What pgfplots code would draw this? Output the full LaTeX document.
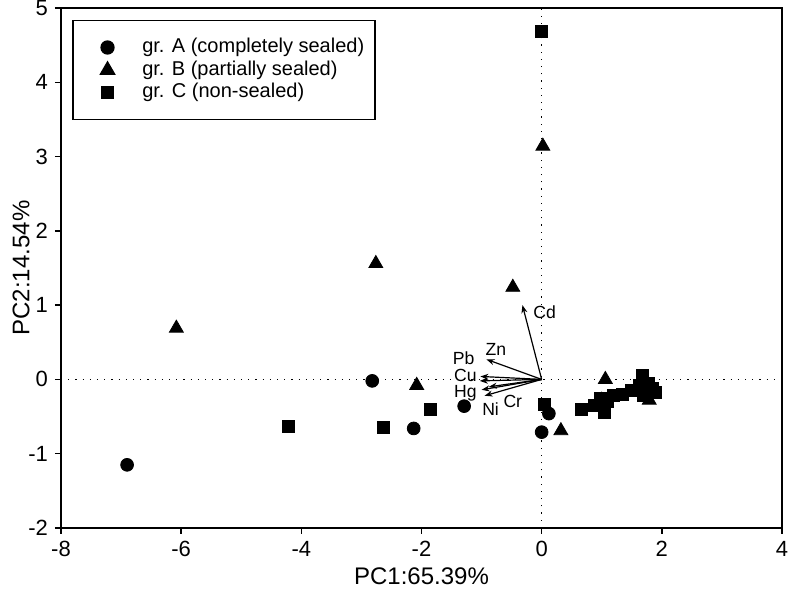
\documentclass[border=0pt]{standalone}
\usepackage{fontspec}
\setmainfont{Liberation Sans}
\usepackage{pgfplots}
\pgfplotsset{compat=1.18}
\usetikzlibrary{arrows.meta}

\pgfplotsset{
    lgd/.style={legend image code/.code={
        \path (0pt,-2pt) (28.5pt,2pt);
        \draw[##1] plot coordinates {(13.5pt,0pt)};
    }},
    vec/.style={forget plot, line width=0.6pt, -{Stealth[length=4pt,width=3pt]}},
    ref/.style={forget plot, line width=0.6pt, dash pattern=on 0.6pt off 3pt},
}
\tikzset{lab/.style={font=\fontsize{8.8}{10}\selectfont, inner sep=0pt}}

\begin{document}
\begin{tikzpicture}
\begin{axis}[
    scale only axis,
    width=360.5pt, height=260pt,
    xmin=-8, xmax=4, ymin=-2, ymax=5,
    xtick={-8,-6,-4,-2,0,2,4},
    ytick={-2,-1,0,1,2,3,4,5},
    tick align=outside,
    xtick pos=left, ytick pos=left,
    major tick length=3pt,
    axis line style={line width=0.75pt},
    tick style={line width=0.75pt, black},
    ticklabel style={font=\fontsize{11}{13}\selectfont},
    /pgf/number format/assume math mode=true,
    xlabel={PC1:65.39\%},
    ylabel={PC2:14.54\%},
    xlabel shift=-1.4pt,
    ylabel shift=-7.5pt,
    label style={font=\fontsize{12}{14}\selectfont},
    legend cell align=left,
    legend style={
        at={(0.0153,0.977)}, anchor=north west,
        draw=black, line width=0.75pt,
        inner xsep=3.5pt, inner ysep=8pt, row sep=0.5pt,
        font=\fontsize{10}{12}\selectfont,
        nodes={inner xsep=2pt, inner ysep=1pt, text height=7pt, text depth=1.8pt},
    },
    clip=false,
]
\coordinate (bl) at (rel axis cs:0,0);
\coordinate (tr) at (rel axis cs:1,1);

% reference lines
\addplot[ref] coordinates {(0,-2) (0,5)};
\addplot[ref] coordinates {(-8,0) (4,0)};

% loading vectors
\addplot[vec] coordinates {(0,0) (-0.32,1.00)};
\addplot[vec] coordinates {(0,0) (-0.92,0.27)};
\addplot[vec] coordinates {(0,0) (-1.02,0.04)};
\addplot[vec] coordinates {(0,0) (-1.03,-0.02)};
\addplot[vec] coordinates {(0,0) (-1.00,-0.14)};
\addplot[vec] coordinates {(0,0) (-0.95,-0.22)};
\addplot[vec] coordinates {(0,0) (-0.88,-0.10)};

\node[lab] at (axis cs:0.05,0.91) {Cd};
\node[lab] at (axis cs:-0.76,0.40) {Zn};
\node[lab] at (axis cs:-1.30,0.28) {Pb};
\node[lab] at (axis cs:-1.27,0.06) {Cu};
\node[lab] at (axis cs:-1.27,-0.19) {Hg};
\node[lab] at (axis cs:-0.85,-0.40) {Ni};
\node[lab] at (axis cs:-0.48,-0.29) {Cr};

% group A
\addplot[lgd, only marks, mark=*, mark size=3.2pt, black] coordinates {
    (-6.90,-1.15) (-2.82,-0.02) (-2.13,-0.66) (-1.29,-0.36)
    (0.00,-0.71) (0.12,-0.46) (0.95,-0.33)
};
\addlegendentry{gr. A (completely sealed)}
% group B
\addplot[lgd, only marks, mark=triangle*, mark size=4pt, black] coordinates {
    (-6.08,0.69) (-2.76,1.56) (-2.08,-0.08) (-0.48,1.24)
    (0.02,3.14) (0.32,-0.69) (1.06,0.00) (1.00,-0.28) (1.79,-0.28)
};
\addlegendentry{gr. B (partially sealed)}
% group C
\addplot[lgd, only marks, mark=square*, mark size=3pt, black] coordinates {
    (0.00,4.68) (-4.22,-0.63) (-2.64,-0.64) (-1.86,-0.41) (0.04,-0.33)
    (0.66,-0.40) (0.88,-0.35) (0.98,-0.25) (1.05,-0.45) (1.10,-0.30)
    (1.20,-0.22) (1.35,-0.20) (1.50,-0.15) (1.62,-0.08) (1.68,0.05)
    (1.78,-0.05) (1.85,-0.12) (1.90,-0.18) (1.70,-0.22)
};
\addlegendentry{gr. C (non-sealed)}
\end{axis}
\pgfresetboundingbox
\path ([shift={(-30.5pt,-35.5pt)}]bl) rectangle ([shift={(3pt,4pt)}]tr);
\end{tikzpicture}
\end{document}
